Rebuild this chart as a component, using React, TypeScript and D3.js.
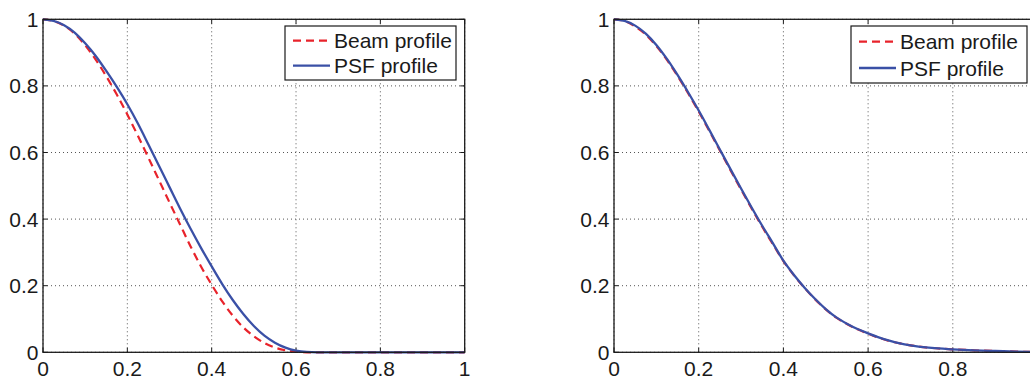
import React, { useEffect, useRef } from "react";
import * as d3 from "d3";

// radial coordinate, shared by every series
const xValues = [
  0, 0.025, 0.05, 0.075, 0.1, 0.125, 0.15, 0.175, 0.2, 0.225, 0.25, 0.275,
  0.3, 0.325, 0.35, 0.375, 0.4, 0.425, 0.45, 0.475, 0.5, 0.525, 0.55, 0.575,
  0.6, 0.625, 0.65, 0.675, 0.7, 0.75, 0.8, 0.85, 0.9, 0.95, 1,
];

// left panel
const leftBeam = [
  1, 0.995, 0.981, 0.957, 0.922, 0.879, 0.829, 0.774, 0.714, 0.65, 0.584,
  0.517, 0.45, 0.384, 0.318, 0.257, 0.203, 0.153, 0.11, 0.075, 0.048, 0.028,
  0.014, 0.006, 0.002, 0, 0, 0, 0, 0, 0, 0, 0, 0, 0,
];
const leftPsf = [
  1, 0.995, 0.982, 0.96, 0.928, 0.89, 0.845, 0.797, 0.745, 0.687, 0.624,
  0.56, 0.496, 0.432, 0.371, 0.313, 0.258, 0.205, 0.157, 0.115, 0.079, 0.05,
  0.029, 0.014, 0.005, 0.001, 0, 0, 0, 0, 0, 0, 0, 0, 0,
];

// right panel
const rightBeam = [
  1, 0.995, 0.978, 0.954, 0.92, 0.878, 0.83, 0.778, 0.723, 0.665, 0.606,
  0.547, 0.489, 0.432, 0.377, 0.325, 0.274, 0.231, 0.193, 0.159, 0.129,
  0.104, 0.085, 0.069, 0.056, 0.044, 0.034, 0.027, 0.021, 0.013, 0.009,
  0.006, 0.004, 0.002, 0.001,
];
const rightPsf = [
  1, 0.995, 0.981, 0.957, 0.923, 0.881, 0.833, 0.781, 0.726, 0.668, 0.609,
  0.55, 0.492, 0.435, 0.38, 0.328, 0.275, 0.232, 0.194, 0.16, 0.13, 0.105,
  0.086, 0.07, 0.057, 0.045, 0.035, 0.027, 0.021, 0.013, 0.009, 0.006,
  0.004, 0.002, 0.001,
];

const tickValues = [0, 0.2, 0.4, 0.6, 0.8, 1];
const tickLabels = ["0", "0.2", "0.4", "0.6", "0.8", "1"];
const seriesNames = ["Beam profile", "PSF profile"];

const RED = "#e8232b";
const BLUE = "#3a50a6";
const INK = "#1a1a1a";
const FONT = "'Liberation Sans', Arial, Helvetica, sans-serif";
const FONT_SIZE = 21;

const panels = [
  {
    left: 43,
    top: 19.3,
    width: 421.7,
    height: 333,
    beam: leftBeam,
    psf: leftPsf,
    legend: { x: 285, y: 26, w: 171, h: 54, row1: 14.7, row2: 39.7 },
  },
  {
    left: 614,
    top: 19.3,
    width: 423.5,
    height: 333,
    beam: rightBeam,
    psf: rightPsf,
    legend: { x: 851, y: 26, w: 176, h: 57, row1: 15.7, row2: 42 },
  },
];

export default function App() {
  const svgRef = useRef<SVGSVGElement>(null);

  useEffect(() => {
    if (!svgRef.current) return;
    const svg = d3.select(svgRef.current);
    svg.selectAll("*").remove();

    panels.forEach((p) => {
      const x = d3.scaleLinear().domain([0, 1]).range([p.left, p.left + p.width]);
      const y = d3.scaleLinear().domain([0, 1]).range([p.top + p.height, p.top]);
      const g = svg.append("g");

      // dotted grid
      g.selectAll("line.gx")
        .data(tickValues)
        .join("line")
        .attr("class", "gx")
        .attr("x1", (d) => x(d))
        .attr("x2", (d) => x(d))
        .attr("y1", y(0))
        .attr("y2", y(1))
        .attr("stroke", "#555")
        .attr("stroke-width", 1)
        .attr("stroke-dasharray", "1,3");

      g.selectAll("line.gy")
        .data(tickValues)
        .join("line")
        .attr("class", "gy")
        .attr("x1", x(0))
        .attr("x2", x(1))
        .attr("y1", (d) => y(d))
        .attr("y2", (d) => y(d))
        .attr("stroke", "#555")
        .attr("stroke-width", 1)
        .attr("stroke-dasharray", "1,3");

      // inward ticks on all four sides
      const tl = 4.5;
      tickValues.forEach((t) => {
        g.append("line").attr("x1", x(t)).attr("x2", x(t)).attr("y1", y(0)).attr("y2", y(0) - tl).attr("stroke", INK);
        g.append("line").attr("x1", x(t)).attr("x2", x(t)).attr("y1", y(1)).attr("y2", y(1) + tl).attr("stroke", INK);
        g.append("line").attr("x1", x(0)).attr("x2", x(0) + tl).attr("y1", y(t)).attr("y2", y(t)).attr("stroke", INK);
        g.append("line").attr("x1", x(1)).attr("x2", x(1) - tl).attr("y1", y(t)).attr("y2", y(t)).attr("stroke", INK);
      });

      const line = d3
        .line<number>()
        .x((_, i) => x(xValues[i]))
        .y((d) => y(d))
        .curve(d3.curveMonotoneX);

      g.append("path")
        .attr("d", line(p.beam))
        .attr("fill", "none")
        .attr("stroke", RED)
        .attr("stroke-width", 2.2)
        .attr("stroke-dasharray", "8,5");

      g.append("path")
        .attr("d", line(p.psf))
        .attr("fill", "none")
        .attr("stroke", BLUE)
        .attr("stroke-width", 2.3);

      // axes box
      g.append("rect")
        .attr("x", x(0))
        .attr("y", y(1))
        .attr("width", x(1) - x(0))
        .attr("height", y(0) - y(1))
        .attr("fill", "none")
        .attr("stroke", INK)
        .attr("stroke-width", 1.3);

      // tick labels
      g.selectAll("text.xl")
        .data(tickValues)
        .join("text")
        .attr("class", "xl")
        .attr("x", (d) => x(d))
        .attr("y", y(0) + 24)
        .attr("text-anchor", "middle")
        .attr("font-family", FONT)
        .attr("font-size", FONT_SIZE)
        .attr("fill", INK)
        .text((_, i) => tickLabels[i]);

      g.selectAll("text.yl")
        .data(tickValues)
        .join("text")
        .attr("class", "yl")
        .attr("x", x(0) - 4.5)
        .attr("y", (d) => y(d) + 7.5)
        .attr("text-anchor", "end")
        .attr("font-family", FONT)
        .attr("font-size", FONT_SIZE)
        .attr("fill", INK)
        .text((_, i) => tickLabels[i]);

      // legend
      const L = p.legend;
      const lg = g.append("g").attr("transform", `translate(${L.x},${L.y})`);
      lg.append("rect")
        .attr("width", L.w)
        .attr("height", L.h)
        .attr("fill", "white")
        .attr("stroke", INK)
        .attr("stroke-width", 1.2);
      [
        { row: L.row1, color: RED, dash: "8,5", w: 2.2 },
        { row: L.row2, color: BLUE, dash: null, w: 2.3 },
      ].forEach((s, i) => {
        lg.append("line")
          .attr("x1", 8)
          .attr("x2", 45)
          .attr("y1", s.row)
          .attr("y2", s.row)
          .attr("stroke", s.color)
          .attr("stroke-width", s.w)
          .attr("stroke-dasharray", s.dash);
        lg.append("text")
          .attr("x", 49)
          .attr("y", s.row + 7.5)
          .attr("font-family", FONT)
          .attr("font-size", FONT_SIZE)
          .attr("fill", INK)
          .text(seriesNames[i]);
      });
    });
  }, []);

  return (
    <svg
      ref={svgRef}
      width={1030}
      height={376}
      style={{ position: "absolute", left: 0, top: 0, background: "white" }}
    />
  );
}
